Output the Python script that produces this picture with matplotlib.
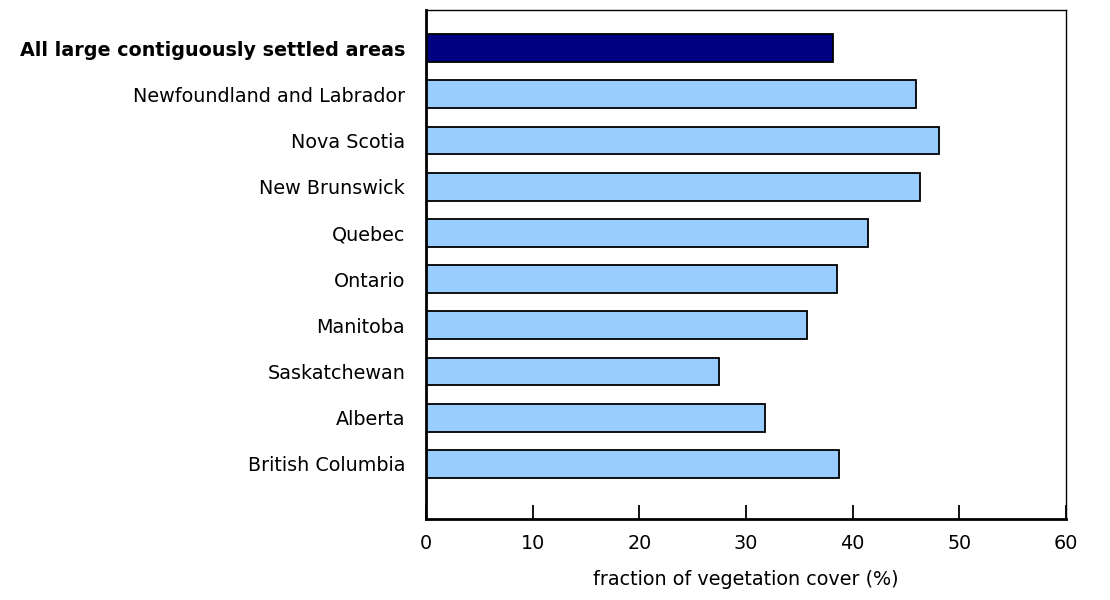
import matplotlib
matplotlib.use("Agg")
import matplotlib.pyplot as plt

categories = ["All large contiguously settled areas", "Newfoundland and Labrador", "Nova Scotia",
              "New Brunswick", "Quebec", "Ontario", "Manitoba", "Saskatchewan", "Alberta",
              "British Columbia"]
values = [38.2, 45.9, 48.1, 46.3, 41.4, 38.5, 35.7, 27.5, 31.8, 38.7]
colors = ["#000080"] + ["#99CCFF"] * 9
xticks = [0, 10, 20, 30, 40, 50, 60]

plt.rcParams['font.family'] = ['DejaVu Sans']
fig = plt.figure(figsize=(11.1, 6), dpi=100)
ax = fig.add_axes([426/1110, 1-519/600, 640/1110, 509/600])
ypos = list(range(len(categories)))
ax.barh(ypos, values, height=0.6, color=colors, edgecolor="black", linewidth=1.3)
ax.set_ylim(9 + 55/46.2, -38/46.2)
ax.set_xlim(0, 60)
ax.set_xticks(xticks)
ax.set_xticklabels([str(t) for t in xticks], fontsize=13.8)
ax.set_yticks(ypos)
ax.set_yticklabels(categories, fontsize=13.8)
first = ax.get_yticklabels()[0]
first.set_fontweight("bold")
first.set_fontsize(13.8)
ax.tick_params(axis="y", length=0, pad=15)
ax.tick_params(axis="x", direction="in", length=10, width=1.3, pad=11)
for s in ["top", "right"]:
    ax.spines[s].set_linewidth(1.0)
for s in ["left", "bottom"]:
    ax.spines[s].set_linewidth(2.0)
ax.set_xlabel("fraction of vegetation cover (%)", fontsize=13.8, labelpad=12)
fig.savefig("out.png", dpi=100)
